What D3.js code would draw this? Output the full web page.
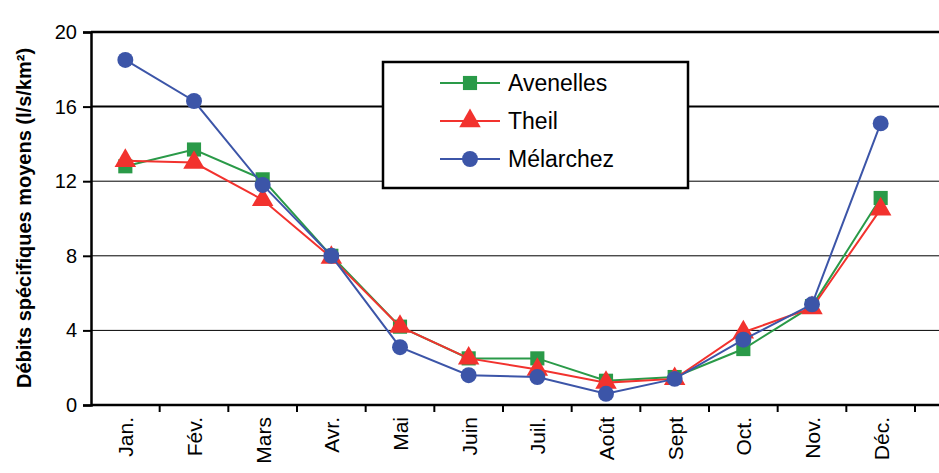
<!DOCTYPE html>
<html><head><meta charset="utf-8">
<script src="https://cdn.jsdelivr.net/npm/d3@7"></script>
<style>body{margin:0;background:#fff}</style></head>
<body><svg id="c" width="939" height="473"></svg>
<script>
const months = ["Jan.","Fév.","Mars","Avr.","Mai","Juin","Juil.","Août","Sept","Oct.","Nov.","Déc."];
const avenelles = [12.8,13.7,12.1,8.0,4.2,2.5,2.5,1.3,1.5,3.0,5.3,11.1];
const theil = [13.1,13.0,11.0,7.9,4.2,2.5,1.9,1.2,1.4,3.9,5.2,10.5];
const melarchez = [18.5,16.3,11.8,8.0,3.1,1.6,1.5,0.6,1.4,3.5,5.4,15.1];
const yTicks = [0,4,8,12,16,20];

const svg = d3.select("#c");
const font = "Liberation Sans, Arial, sans-serif";
const x = d3.scaleBand().domain(months).range([91, 915]);
const y = d3.scaleLinear().domain([0,20]).range([405, 32]);

// grid
svg.append("g").selectAll("line").data(yTicks.slice(1)).enter().append("line")
  .attr("x1", 91).attr("x2", 939).attr("y1", d => y(d)).attr("y2", d => y(d))
  .attr("stroke", "#000").attr("stroke-width", d => d == 20 ? 2.5 : d == 16 ? 2 : 1);

const ya = svg.append("g").attr("transform", "translate(91,0)")
  .call(d3.axisLeft(y).tickValues(yTicks).tickSize(8).tickPadding(6));
ya.select(".domain").attr("stroke-width", 2.5);
ya.selectAll("line").attr("stroke-width", 2);
ya.selectAll("text").attr("font-family", font).attr("font-size", 20).attr("fill", "#000");

// x axis
svg.append("line").attr("x1", 91).attr("x2", 939).attr("y1", 405).attr("y2", 405)
  .attr("stroke", "#000").attr("stroke-width", 2.5);
svg.append("g").selectAll("line").data(months.slice(1)).enter().append("line")
  .attr("x1", d => x(d)).attr("x2", d => x(d)).attr("y1", 405).attr("y2", 412)
  .attr("stroke", "#000").attr("stroke-width", 2);
svg.append("line").attr("x1", 915).attr("x2", 915).attr("y1", 405).attr("y2", 412)
  .attr("stroke", "#000").attr("stroke-width", 2);
svg.append("g").selectAll("text").data(months).enter().append("text")
  .attr("transform", d => `translate(${x(d) + x.bandwidth()/2 + 8},417) rotate(-90)`)
  .attr("text-anchor", "end").attr("font-family", font).attr("font-size", 21)
  .text(d => d);

svg.append("text").attr("transform", "translate(31,218) rotate(-90)")
  .attr("text-anchor", "middle").attr("font-family", font).attr("font-size", 20)
  .attr("font-weight", "bold").text("Débits spécifiques moyens (l/s/km²)");

const series = [
  {name: "Avenelles", values: avenelles, color: "#2a9a48", shape: d3.symbolSquare},
  {name: "Theil", values: theil, color: "#f2322e", shape: d3.symbolTriangle},
  {name: "Mélarchez", values: melarchez, color: "#3c55a8", shape: d3.symbolCircle}
];
const cx = m => x(m) + x.bandwidth()/2;
const line = d3.line().x((d,i) => cx(months[i])).y(d => y(d));
series.forEach(s => {
  const g = svg.append("g");
  g.append("path").datum(s.values).attr("d", line).attr("fill", "none")
    .attr("stroke", s.color).attr("stroke-width", 2);
  g.selectAll("path.m").data(s.values).enter().append("path").attr("class", "m")
    .attr("transform", (d,i) => `translate(${cx(months[i])},${y(d)})`)
    .attr("d", d3.symbol().type(s.shape).size(200)).attr("fill", s.color);
});

// legend
const lg = svg.append("g");
lg.append("rect").attr("x", 383).attr("y", 62).attr("width", 305).attr("height", 126)
  .attr("fill", "#fff").attr("stroke", "#000").attr("stroke-width", 2.5);
series.forEach((s, i) => {
  const ly = 83 + i * 38;
  lg.append("line").attr("x1", 440).attr("x2", 500).attr("y1", ly).attr("y2", ly)
    .attr("stroke", s.color).attr("stroke-width", 2);
  lg.append("path").attr("transform", `translate(470,${ly})`)
    .attr("d", d3.symbol().type(s.shape).size(200)).attr("fill", s.color);
  lg.append("text").attr("x", 508).attr("y", ly + 8).attr("font-family", font)
    .attr("font-size", 23).text(s.name);
});
</script></body></html>
